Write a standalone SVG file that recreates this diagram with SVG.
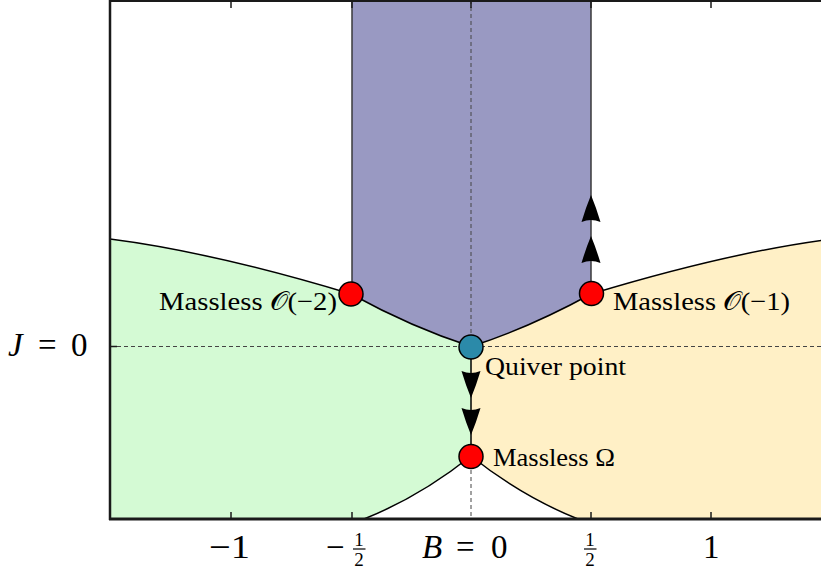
<svg xmlns="http://www.w3.org/2000/svg" width="821" height="571" viewBox="0 0 821 571">
<style>
.lbl{font-family:"Liberation Serif",serif;font-size:26px;fill:#000}
.ax{font-family:"Liberation Serif",serif;font-size:33px;fill:#000}
.fr{font-family:"Liberation Serif",serif;font-size:19px;fill:#000;text-anchor:middle}
.bd{fill:none;stroke:#000;stroke-width:1.5}
.edge{fill:none;stroke:#3a3a3a;stroke-width:1.5}
.dash{fill:none;stroke:#444;stroke-width:1;stroke-dasharray:4 3}
.red{fill:#ff0000;stroke:#000;stroke-width:1.5}
.teal{fill:#2b8aa9;stroke:#000;stroke-width:1.5}
.axis{stroke:#1a1a1a;fill:none}
</style>
<defs>
<clipPath id="plot"><rect x="110" y="1" width="711" height="518"/></clipPath>
<path id="ah" d="M0,0 Q-5,-12 -9.5,-27 Q0,-23 9.5,-27 Q5,-12 0,0 Z" fill="#000"/>
</defs>
<g id="regions" clip-path="url(#plot)">
<path id="green" d="M110,239 Q212,252 351,294 Q412,327.5 471,346.5 L471,456 Q420.5,496.4 364,519 L110,519 Z" fill="#d4fad4"/>
<path id="yellow" d="M832,239 Q730,252 591,294 Q530,327.5 471,346.5 L471,456 Q521.5,496.4 578,519 L832,519 Z" fill="#fff0c6"/>
<path id="purple" d="M352,0 L352,294 Q412,327.5 471,346.5 Q530,327.5 591,294 L591,0 Z" fill="#9999c2"/>
</g>
<g id="connectors" clip-path="url(#plot)">
<path class="dash" d="M110,346.5 H821"/>
<path class="dash" d="M471,0 V346"/>
<path class="dash" d="M471,456 V519"/>
<path class="bd" d="M110,239 Q212,252 351,294"/>
<path class="bd" d="M832,239 Q730,252 591,294"/>
<path class="bd" d="M351,294 Q412,327.5 471,346.5 Q530,327.5 591,294"/>
<path class="bd" d="M364,519 Q420.5,496.4 471,456 Q521.5,496.4 578,519"/>
<path class="edge" d="M352,0 V294"/>
<path class="edge" d="M591,0 V294"/>
<path class="bd" d="M471,346 V456"/>
<use href="#ah" transform="translate(471,398)"/>
<use href="#ah" transform="translate(471,435)"/>
<use href="#ah" transform="translate(591,195) rotate(180)"/>
<use href="#ah" transform="translate(591,236) rotate(180)"/>
</g>
<g id="axes">
<path class="axis" stroke-width="2.5" d="M110,0 V520"/>
<path class="axis" stroke-width="3" d="M109,519 H821"/>
<path class="axis" stroke-width="2" d="M110,1 H821"/>
<path class="axis" stroke-width="1.5" d="M231,519 V512 M352,519 V512 M591,519 V512 M711,519 V512 M231,1 V8 M352,1 V8 M471,1 V8 M591,1 V8 M711,1 V8 M110,346.5 H117"/>
</g>
<g id="node-massless-O2">
<circle class="red" cx="351" cy="294" r="12"/>
<text class="lbl" x="159" y="310" textLength="178" lengthAdjust="spacingAndGlyphs">Massless 𝒪(−2)</text>
</g>
<g id="node-massless-O1">
<circle class="red" cx="591.5" cy="293.5" r="12"/>
<text class="lbl" x="613" y="310" textLength="177" lengthAdjust="spacingAndGlyphs">Massless 𝒪(−1)</text>
</g>
<g id="node-quiver">
<circle class="teal" cx="471" cy="347" r="12"/>
<text class="lbl" x="485" y="375" textLength="141" lengthAdjust="spacingAndGlyphs">Quiver point</text>
</g>
<g id="node-massless-omega">
<circle class="red" cx="471" cy="456.5" r="12"/>
<text class="lbl" x="493" y="466" textLength="122" lengthAdjust="spacingAndGlyphs">Massless Ω</text>
</g>
<g id="labels">
<text class="ax" y="356"><tspan x="8" font-style="italic">J</tspan><tspan x="38">=</tspan><tspan x="71">0</tspan></text>
<text class="ax" y="558"><tspan x="422" font-style="italic">B</tspan><tspan x="456">=</tspan><tspan x="491">0</tspan></text>
<text class="ax" y="558" x="209" textLength="41" lengthAdjust="spacingAndGlyphs">−1</text>
<text class="ax" y="558" x="703">1</text>
<text class="ax" y="558" x="326">−</text>
<text class="fr" x="359" y="546">1</text>
<path d="M353,549 H365.5" stroke="#000" stroke-width="1.2"/>
<text class="fr" x="359" y="566">2</text>
<text class="fr" x="590" y="546">1</text>
<path d="M584,549 H596.5" stroke="#000" stroke-width="1.2"/>
<text class="fr" x="590" y="566">2</text>
</g>
</svg>
